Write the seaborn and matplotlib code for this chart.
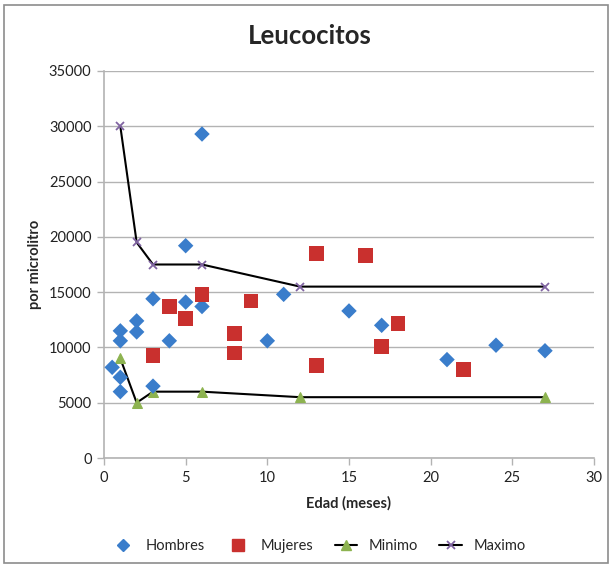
import matplotlib
matplotlib.use("Agg")
import matplotlib.pyplot as plt
from matplotlib.patches import Rectangle
from matplotlib.lines import Line2D
import seaborn as sns
import pandas as pd

# Edad (meses) y leucocitos por microlitro
hombres_edad = [0.5, 1, 1, 1, 1, 2, 2, 3, 3, 4, 5, 5, 6, 6, 10, 11, 15, 17, 21, 24, 27]
hombres_val = [8200, 10600, 11500, 7300, 6000, 12400, 11400, 14400, 6500, 10600,
               19200, 14100, 29300, 13700, 10600, 14800, 13300, 12000, 8900, 10200, 9700]

mujeres_edad = [3, 4, 5, 6, 8, 8, 9, 13, 13, 16, 17, 18, 22]
mujeres_val = [9300, 13700, 12600, 14800, 11300, 9500, 14200, 18500, 8400, 18300, 10100, 12200, 8000]

ref_edad = [1, 2, 3, 6, 12, 27]
minimo = [9000, 5000, 6000, 6000, 5500, 5500]
maximo = [30000, 19500, 17500, 17500, 15500, 15500]

df_h = pd.DataFrame({"edad": hombres_edad, "valor": hombres_val})
df_m = pd.DataFrame({"edad": mujeres_edad, "valor": mujeres_val})
df_ref = pd.DataFrame({"edad": ref_edad, "minimo": minimo, "maximo": maximo})

sns.set_theme(style="white")
plt.rcParams["font.family"] = ["Lato", "DejaVu Sans"]

AZUL = "#3A7DCB"
ROJO = "#C9302E"
VERDE = "#8DB350"
MORADO = "#8064A2"
GRIS = "#B3B3B3"

fig = plt.figure(figsize=(6.13, 5.67), dpi=100)
ax = fig.add_axes([104 / 613, 1 - 458 / 567, 490 / 613, 387 / 567])

sns.lineplot(data=df_ref, x="edad", y="minimo", ax=ax, color="black", lw=1.5,
             marker="^", markersize=7, markerfacecolor=VERDE, markeredgecolor=VERDE,
             sort=False, estimator=None, zorder=3)
sns.lineplot(data=df_ref, x="edad", y="maximo", ax=ax, color="black", lw=1.5,
             marker="x", markersize=6, markeredgewidth=1.3, markeredgecolor=MORADO,
             sort=False, estimator=None, zorder=3)
sns.scatterplot(data=df_h, x="edad", y="valor", ax=ax, marker="D", s=62,
                color=AZUL, edgecolor="none", zorder=4)
sns.scatterplot(data=df_m, x="edad", y="valor", ax=ax, marker="s", s=115,
                color=ROJO, edgecolor="none", zorder=4)

ax.set_xlim(0, 30)
ax.set_ylim(0, 35000)
ax.set_xticks(range(0, 31, 5))
ax.set_yticks(range(0, 35001, 5000))
ax.yaxis.grid(True, color=GRIS, lw=1)
ax.set_axisbelow(True)
for side in ["top", "right"]:
    ax.spines[side].set_visible(False)
for side in ["left", "bottom"]:
    ax.spines[side].set_color(GRIS)
    ax.spines[side].set_linewidth(1.2)
ax.tick_params(axis="both", which="major", length=5, width=1, color=GRIS,
               labelsize=10.5, labelcolor="#222222", pad=4, direction="out",
               left=True, bottom=True)

ax.set_xlabel("Edad (meses)", fontsize=10.5, fontweight="bold", labelpad=8)
ax.set_ylabel("por microlitro", fontsize=10.5, fontweight="bold", labelpad=5)
fig.suptitle("Leucocitos", x=0.505, y=1 - 36 / 567, va="center",
             fontsize=18.5, fontweight="bold")

handles = [
    Line2D([], [], ls="none", marker="D", markersize=6.5, color=AZUL),
    Line2D([], [], ls="none", marker="s", markersize=9, color=ROJO),
    Line2D([], [], color="black", lw=1.5, marker="^", markersize=7,
           markerfacecolor=VERDE, markeredgecolor=VERDE),
    Line2D([], [], color="black", lw=1.5, marker="x", markersize=6,
           markeredgewidth=1.3, markeredgecolor=MORADO),
]
fig.legend(handles, ["Hombres", "Mujeres", "Minimo", "Maximo"], ncol=4,
           loc="center", bbox_to_anchor=(0.52, 1 - 546 / 567), frameon=False,
           fontsize=10.5, handlelength=1.55, columnspacing=1.45, handletextpad=0.8)

fig.add_artist(Rectangle((4 / 613, 4 / 567), 604 / 613, 558 / 567,
                         transform=fig.transFigure, fill=False,
                         edgecolor="#8C8C8C", lw=1.2))

fig.savefig("out.png", dpi=100, facecolor="white")
